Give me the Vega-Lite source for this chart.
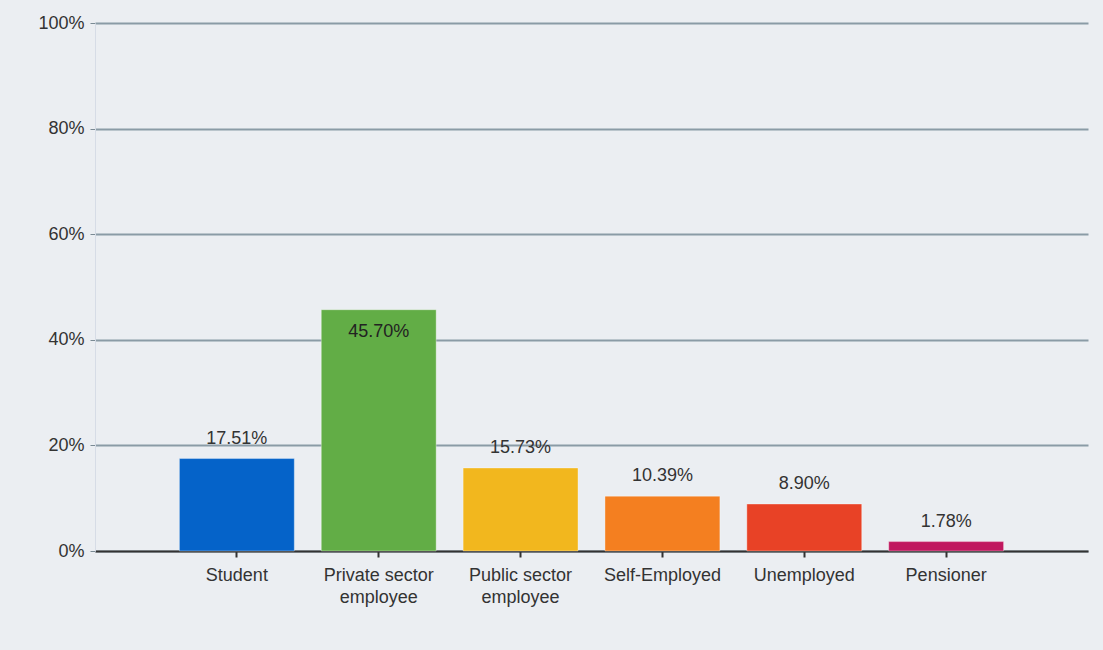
{
  "$schema": "https://vega.github.io/schema/vega-lite/v6.json",
  "autosize": "none",
  "width": 993,
  "height": 528,
  "padding": {"left": 95, "top": 23, "right": 15, "bottom": 99},
  "background": "#ebeef2",
  "config": {
    "view": {"stroke": null},
    "font": "Liberation Sans",
    "axis": {"labelFont": "Liberation Sans", "labelFontSize": 18, "labelColor": "#333333"}
  },
  "data": {
    "values": [
      {"category": "Student", "share": 0.1751},
      {"category": "Private sector employee", "share": 0.4570},
      {"category": "Public sector employee", "share": 0.1573},
      {"category": "Self-Employed", "share": 0.1039},
      {"category": "Unemployed", "share": 0.0890},
      {"category": "Pensioner", "share": 0.0178}
    ]
  },
  "encoding": {
    "x": {
      "field": "category",
      "type": "nominal",
      "sort": null,
      "scale": {"paddingInner": 0.19, "paddingOuter": 0.595},
      "axis": {
        "title": null,
        "labelAngle": 0,
        "domainColor": "#333333",
        "domainWidth": 2,
        "tickColor": "#333333",
        "tickWidth": 2,
        "tickSize": 6,
        "labelPadding": 9,
        "labelLineHeight": 22,
        "labelExpr": "test(/ employee$/, datum.label) ? [replace(datum.label, ' employee', ''), 'employee'] : datum.label"
      }
    },
    "y": {
      "field": "share",
      "type": "quantitative",
      "scale": {"domain": [0, 1]},
      "axis": {
        "title": null,
        "format": "%",
        "values": [0, 0.2, 0.4, 0.6, 0.8, 1],
        "grid": true,
        "gridColor": "#8a9ba6",
        "gridWidth": 2,
        "domainColor": "#d6dce6",
        "domainWidth": 1,
        "tickColor": "#7a8a94",
        "tickSize": 5,
        "labelPadding": 6
      }
    }
  },
  "layer": [
    {
      "mark": {"type": "bar", "stroke": "#ffffff", "strokeOpacity": 0.35, "strokeWidth": 1},
      "encoding": {
        "color": {
          "field": "category",
          "type": "nominal",
          "sort": null,
          "legend": null,
          "scale": {
            "domain": ["Student", "Private sector employee", "Public sector employee", "Self-Employed", "Unemployed", "Pensioner"],
            "range": ["#0563c9", "#62ad46", "#f2b71e", "#f47f20", "#e84226", "#c0185f"]
          }
        }
      }
    },
    {
      "transform": [{"filter": "datum.share < 0.4"}],
      "mark": {"type": "text", "baseline": "bottom", "dy": -11, "fontSize": 18, "color": "#333333"},
      "encoding": {"text": {"field": "share", "type": "quantitative", "format": ".2%"}}
    },
    {
      "transform": [{"filter": "datum.share >= 0.4"}],
      "mark": {"type": "text", "baseline": "top", "dy": 13, "fontSize": 18, "color": "#222222"},
      "encoding": {"text": {"field": "share", "type": "quantitative", "format": ".2%"}}
    }
  ]
}
